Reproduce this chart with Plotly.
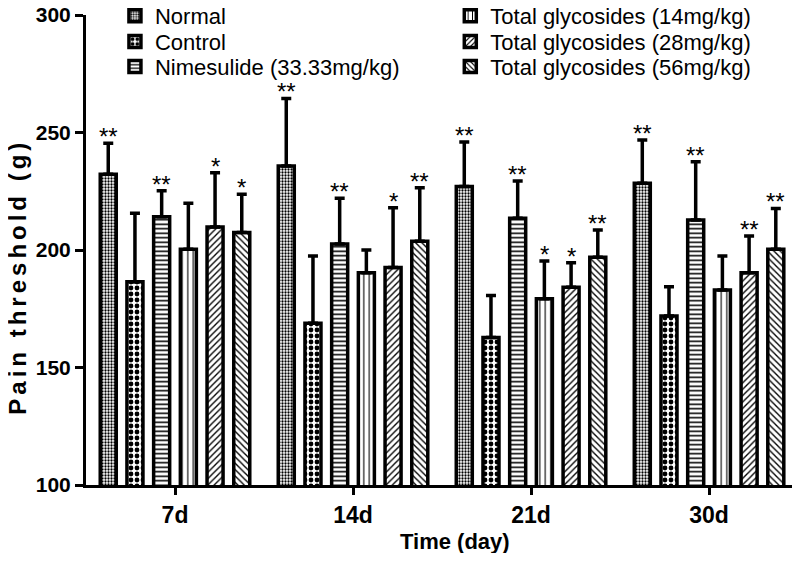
import plotly.graph_objects as go

days = ["7d", "14d", "21d", "30d"]
groups = ["Normal", "Control", "Nimesulide (33.33mg/kg)",
          "Total glycosides (14mg/kg)", "Total glycosides (28mg/kg)",
          "Total glycosides (56mg/kg)"]

normal_mean = [232.2, 235.7, 227.0, 228.4]
normal_sd = [13.2, 28.8, 19.0, 18.4]
control_mean = [186.5, 168.8, 162.8, 171.9]
control_sd = [29.1, 28.6, 17.8, 12.5]
nim_mean = [214.2, 202.6, 213.5, 212.8]
nim_sd = [11.0, 19.4, 15.9, 24.8]
tg14_mean = [200.3, 190.3, 179.3, 183.0]
tg14_sd = [19.6, 9.7, 16.0, 14.4]
tg28_mean = [209.8, 192.6, 184.1, 190.3]
tg28_sd = [23.1, 25.4, 10.5, 15.7]
tg56_mean = [207.4, 203.7, 196.9, 200.3]
tg56_sd = [16.3, 22.8, 11.6, 17.4]

normal_sig = ["**", "**", "**", "**"]
control_sig = ["", "", "", ""]
nim_sig = ["**", "**", "**", "**"]
tg14_sig = ["", "", "*", ""]
tg28_sig = ["*", "*", "*", "**"]
tg56_sig = ["*", "**", "**", "**"]

y_ticks = [100, 150, 200, 250, 300]

means = [normal_mean, control_mean, nim_mean, tg14_mean, tg28_mean, tg56_mean]
sds = [normal_sd, control_sd, nim_sd, tg14_sd, tg28_sd, tg56_sd]
sigs = [normal_sig, control_sig, nim_sig, tg14_sig, tg28_sig, tg56_sig]

# styling
patterns = [
    dict(shape=".", size=3, solidity=0.45),
    dict(shape=".", size=6, solidity=0.5),
    dict(shape="-", size=4.5, solidity=0.35),
    dict(shape="|", size=5.5, solidity=0.2),
    dict(shape="/", size=4.5, solidity=0.3),
    dict(shape="\\", size=4.5, solidity=0.3),
]
legend_names = ["legend", "legend2", "legend3", "legend4", "legend5", "legend6"]
legend_pos = [(0.041, 0.998), (0.041, 0.943), (0.041, 0.890),
              (0.516, 0.998), (0.516, 0.943), (0.516, 0.890)]

BARGAP = 0.10
BARGROUPGAP = 0.40
n = len(groups)
slot = (1 - BARGAP) / n

fig = go.Figure()
annotations = []
for i, g in enumerate(groups):
    pat = dict(patterns[i])
    pat.update(fgcolor="black", bgcolor="white", fillmode="replace")
    fig.add_trace(go.Bar(
        name=g, x=days, y=means[i],
        marker=dict(color="white", pattern=pat,
                    line=dict(color="black", width=3.5)),
        error_y=dict(type="data", symmetric=False, array=sds[i],
                     arrayminus=[0] * len(days), color="black",
                     thickness=3.5, width=5),
        legend=legend_names[i],
    ))
    off = -(1 - BARGAP) / 2 + slot * (i + 0.5)
    for j, d in enumerate(days):
        if sigs[i][j]:
            annotations.append(dict(
                x=j + off, y=means[i][j] + sds[i][j], xref="x", yref="y",
                text=sigs[i][j], showarrow=False, yanchor="bottom",
                yshift=-9,
                font=dict(family="Liberation Sans, Arial", size=24, color="black"),
            ))

annotations.append(dict(
    x=-0.0965, y=0.443, xref="paper", yref="paper", textangle=-90,
    text='<span style="letter-spacing:4px">Pain threshold (g)</span>',
    showarrow=False, xanchor="center", yanchor="middle",
    font=dict(family="Liberation Sans, Arial", size=24, color="black", weight="bold"),
))
annotations.append(dict(
    x=0.5227, y=-0.121, xref="paper", yref="paper",
    text="Time (day)", showarrow=False, xanchor="center", yanchor="middle",
    font=dict(family="Liberation Sans Narrow, Arial Narrow, Liberation Sans", size=22,
              color="black", weight="bold"),
))

layout_legends = {}
for name, (lx, ly) in zip(legend_names, legend_pos):
    layout_legends[name] = dict(
        x=lx, y=ly, xanchor="left", yanchor="middle",
        bgcolor="rgba(0,0,0,0)", borderwidth=0,
        font=dict(family="Liberation Sans, Arial", size=22, color="black"),
    )

# the page body adds an 8px offset; figure size/margins compensate for it
fig.update_layout(
    width=784, height=545,
    margin=dict(l=78, r=0, t=7, b=68, autoexpand=False),
    paper_bgcolor="white", plot_bgcolor="white",
    barmode="group", bargap=BARGAP, bargroupgap=BARGROUPGAP,
    showlegend=True,
    annotations=annotations,
    xaxis=dict(
        type="category", range=[-0.5, 3.466],
        showline=True, linecolor="black", linewidth=3,
        ticks="outside", ticklen=7, tickwidth=3, tickcolor="black",
        showgrid=False, zeroline=False,
        tickfont=dict(family="Liberation Sans Narrow, Arial Narrow, Liberation Sans",
                      size=23, color="black", weight="bold"),
    ),
    yaxis=dict(
        range=[100, 300], tickvals=y_ticks,
        showline=True, linecolor="black", linewidth=3,
        ticks="outside", ticklen=8, tickwidth=3, tickcolor="black",
        showgrid=False, zeroline=False, ticklabeloverflow="allow",
        tickfont=dict(family="Liberation Sans, Arial", size=21, color="black",
                      weight="bold"),
    ),
    **layout_legends,
)

fig.write_html("out.html")
